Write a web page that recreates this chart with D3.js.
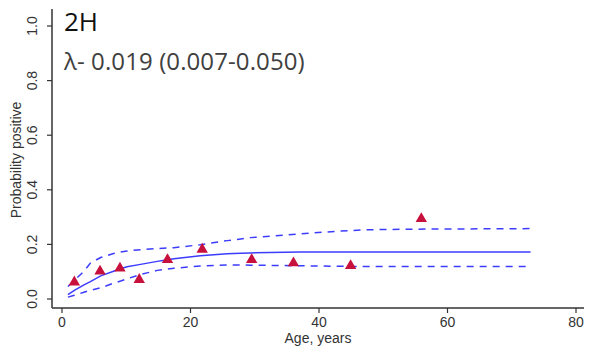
<!DOCTYPE html>
<html>
<head>
<meta charset="utf-8">
<script src="https://cdn.jsdelivr.net/npm/d3@7"></script>
<style>
  body { margin: 0; background: #fff; }
  svg { display: block; }
</style>
</head>
<body>
<div id="chart"></div>
<script>
// observed points (age, proportion positive)
const obsAge = [2, 6, 9.1, 12.1, 16.5, 21.9, 29.6, 36.1, 45, 56];
const obsVal = [0.06, 0.10, 0.111, 0.069, 0.142, 0.18, 0.142, 0.13, 0.12, 0.292];

// fitted curve and 95% limits
const fitAge = [1, 2, 3.5, 4.5, 6.1, 8.1, 9.2, 10.2, 12.3, 14.9, 16.5, 17.5, 21.6, 25.8, 27.9, 29.4, 37.2, 43.4, 47.6, 55, 73];
const fitMid = [0.014, 0.03, 0.05, 0.062, 0.083, 0.100, 0.109, 0.116, 0.125, 0.136, 0.142, 0.146, 0.157, 0.164, 0.166, 0.167, 0.17, 0.17, 0.17, 0.17, 0.17];
const fitLow = [0.005, 0.012, 0.023, 0.03, 0.039, 0.056, 0.064, 0.072, 0.088, 0.103, 0.108, 0.111, 0.119, 0.123, 0.123, 0.122, 0.12, 0.118, 0.117, 0.117, 0.117];
const fitHigh = [0.044, 0.066, 0.1, 0.13, 0.150, 0.165, 0.170, 0.174, 0.179, 0.183, 0.185, 0.186, 0.197, 0.212, 0.218, 0.223, 0.237, 0.247, 0.252, 0.254, 0.256];

const xTicks = [0, 20, 40, 60, 80];
const yTicks = [0, 0.2, 0.4, 0.6, 0.8, 1.0];

const W = 590, H = 349;
const svg = d3.select("#chart").append("svg")
  .attr("width", W).attr("height", H);

const x = d3.scaleLinear().domain([0, 80]).range([61.5, 575.5]);
const y = d3.scaleLinear().domain([0, 1]).range([298.5, 25.5]);

const axisColor = "#333";
const labelColor = "#333";
const blue = "#3c3cff";

// axis lines
svg.append("line")
  .attr("x1", 52).attr("x2", 52).attr("y1", 9).attr("y2", 308)
  .attr("stroke", axisColor).attr("stroke-width", 1.5);
svg.append("line")
  .attr("x1", 52).attr("x2", 584).attr("y1", 308).attr("y2", 308)
  .attr("stroke", axisColor).attr("stroke-width", 1.5);

// x axis
const gx = svg.append("g").attr("transform", "translate(0,308)")
  .call(d3.axisBottom(x).tickValues(xTicks).tickFormat(d3.format("d")).tickSize(5).tickPadding(4));
gx.select(".domain").remove();
gx.selectAll("line").attr("stroke", axisColor).attr("stroke-width", 1.2);
gx.selectAll("text").attr("fill", labelColor)
  .style("font-family", "'Liberation Sans', Arial, sans-serif").style("font-size", "14px");

// y axis
const gy = svg.append("g").attr("transform", "translate(52,0)")
  .call(d3.axisLeft(y).tickValues(yTicks).tickFormat(d3.format(".1f")).tickSize(5).tickPadding(0));
gy.select(".domain").remove();
gy.selectAll("line").attr("stroke", axisColor).attr("stroke-width", 1.2);
gy.selectAll("text")
  .attr("fill", labelColor)
  .attr("x", null).attr("dy", null)
  .attr("text-anchor", "middle")
  .attr("transform", "translate(-15,0) rotate(-90)")
  .style("font-family", "'Liberation Sans', Arial, sans-serif").style("font-size", "14px");

// axis titles
svg.append("text")
  .attr("x", 318).attr("y", 343).attr("text-anchor", "middle")
  .attr("fill", labelColor)
  .style("font-family", "'Liberation Sans', Arial, sans-serif").style("font-size", "14px")
  .text("Age, years");
svg.append("text")
  .attr("transform", "translate(21,160) rotate(-90)")
  .attr("text-anchor", "middle")
  .attr("fill", labelColor)
  .style("font-family", "'Liberation Sans', Arial, sans-serif").style("font-size", "14px")
  .text("Probability positive");

// curves
const line = d3.line().x(d => x(d[0])).y(d => y(d[1]));
const mk = arr => fitAge.map((a, i) => [a, arr[i]]);

svg.append("path").datum(mk(fitHigh))
  .attr("d", line).attr("fill", "none").attr("stroke", blue)
  .attr("stroke-width", 1.5).attr("stroke-dasharray", "7,6");
svg.append("path").datum(mk(fitLow))
  .attr("d", line).attr("fill", "none").attr("stroke", blue)
  .attr("stroke-width", 1.5).attr("stroke-dasharray", "7,6");
svg.append("path").datum(mk(fitMid))
  .attr("d", line).attr("fill", "none").attr("stroke", blue)
  .attr("stroke-width", 1.5);

// observed triangles
const tri = d3.symbol().type(d3.symbolTriangle).size(56);
svg.append("g").selectAll("path")
  .data(obsAge.map((a, i) => [a, obsVal[i]]))
  .join("path")
  .attr("transform", d => "translate(" + x(d[0]) + "," + y(d[1]) + ")")
  .attr("d", tri)
  .attr("fill", "#c8103c");

// titles
svg.append("text")
  .attr("x", 64).attr("y", 31)
  .attr("fill", "#111")
  .style("font-family", "'Open Sans', sans-serif").style("font-size", "26px")
  .text("2H");
svg.append("text")
  .attr("x", 64).attr("y", 70)
  .attr("fill", "#404040")
  .style("font-family", "'Open Sans', sans-serif").style("font-size", "24px")
  .style("letter-spacing", "0.1px")
  .text("λ- 0.019 (0.007-0.050)");
</script>
</body>
</html>
